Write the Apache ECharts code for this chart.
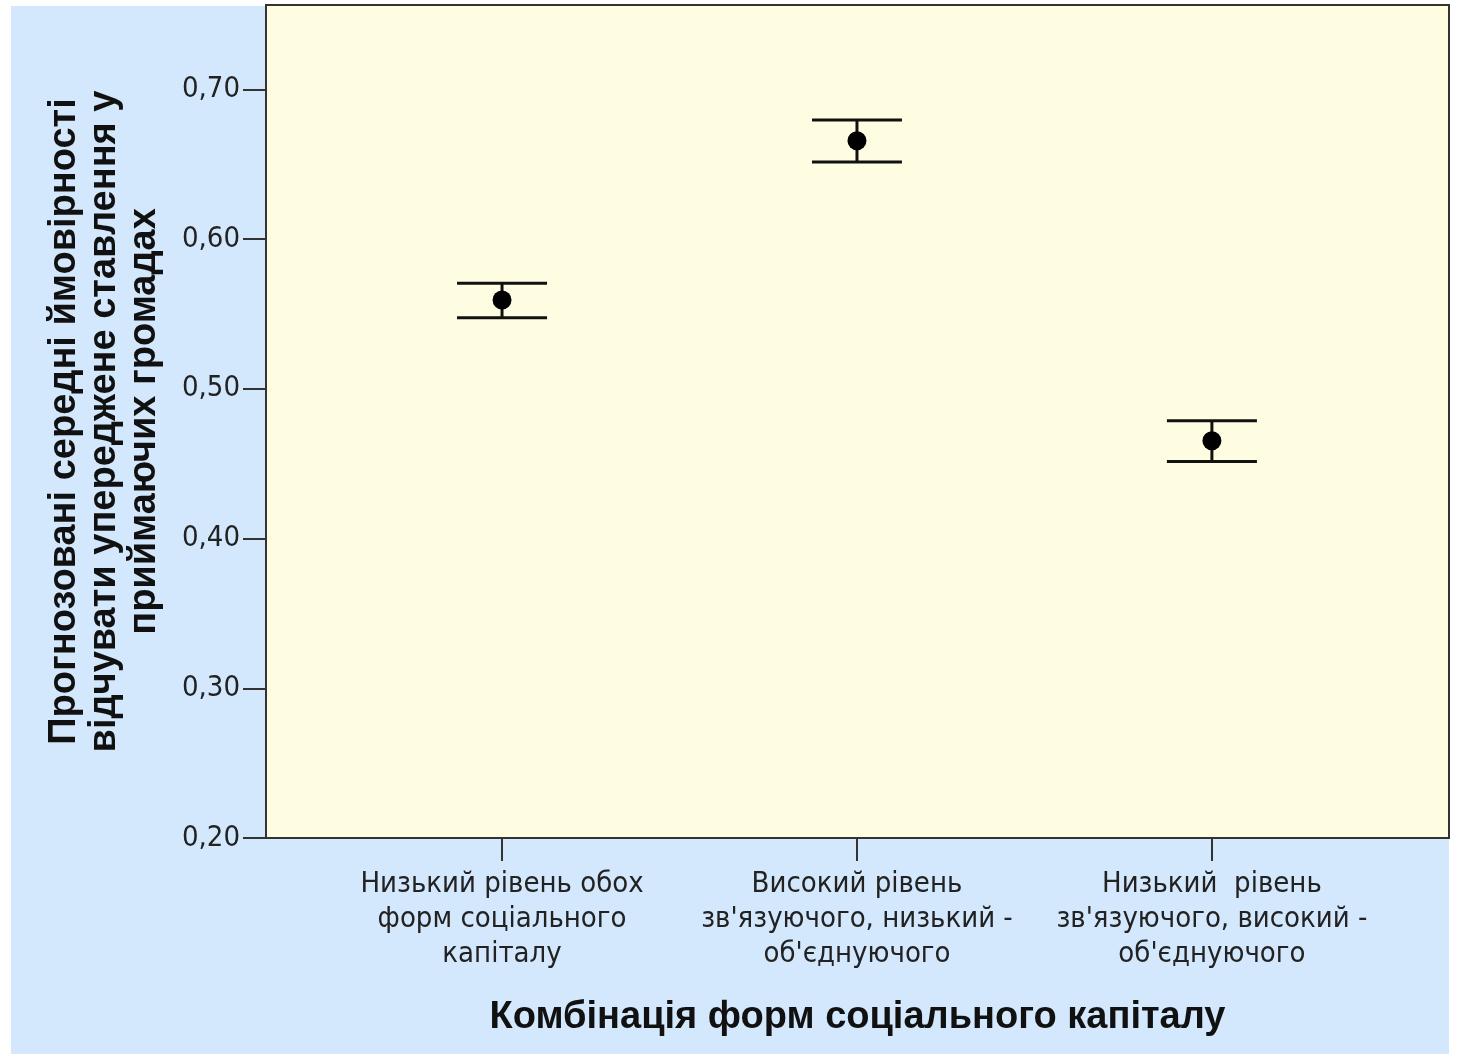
<!DOCTYPE html>
<html>
<head>
<meta charset="utf-8">
<script src="https://cdn.jsdelivr.net/npm/echarts@6/dist/echarts.min.js"></script>
<style>
html,body{margin:0;padding:0;background:#ffffff;}
#chart{width:1457px;height:1054px;}
</style>
</head>
<body>
<div id="chart"></div>
<script>
const categories = [
  'Низький рівень обох\nформ соціального\nкапіталу',
  'Високий рівень\nзв\'язуючого, низький -\nоб\'єднуючого',
  'Низький  рівень\nзв\'язуючого, високий -\nоб\'єднуючого'
];
const means = [0.5593, 0.6657, 0.4653];
const upper = [0.5704, 0.6795, 0.4786];
const lower = [0.5474, 0.6514, 0.4515];
const yTicks = [0.2, 0.3, 0.4, 0.5, 0.6, 0.7];
const xTicks = [0, 1, 2];

const narrow = "'Liberation Sans Narrow','DejaVu Sans Condensed','Arial Narrow',sans-serif";
const boldFont = "'Liberation Sans',Arial,sans-serif";

const chart = echarts.init(document.getElementById('chart'));
const option = {
  backgroundColor: '#ffffff',
  animation: false,
  graphic: [{
    type: 'rect', z: -10, silent: true,
    shape: {x: 11, y: 6, width: 1438, height: 1048},
    style: {fill: '#d3e8fd'}
  }],
  grid: {
    left: 266, top: 5, right: 8, bottom: 216,
    show: true, backgroundColor: '#fffde1', borderColor: '#333333', borderWidth: 2
  },
  xAxis: {
    type: 'value', min: -0.665, max: 2.668,
    splitLine: {show: false},
    axisLine: {show: true, onZero: false, lineStyle: {color: '#333333', width: 2}},
    axisTick: {show: true, inside: false, length: 23, customValues: xTicks, lineStyle: {color: '#333333', width: 2}},
    axisLabel: {
      customValues: xTicks, margin: 29, color: '#222222',
      fontFamily: narrow, fontSize: 29, lineHeight: 35,
      formatter: v => categories[Math.round(v)] || ''
    },
    name: 'Комбінація форм соціального капіталу',
    nameLocation: 'middle', nameGap: 161,
    nameTextStyle: {fontFamily: boldFont, fontWeight: 'bold', fontSize: 38, color: '#111111'}
  },
  yAxis: {
    type: 'value', min: 0.2, max: 0.7563, interval: 0.1,
    splitLine: {show: false},
    axisLine: {show: true, onZero: false, lineStyle: {color: '#333333', width: 2}},
    axisTick: {show: true, inside: false, length: 23, customValues: yTicks, lineStyle: {color: '#333333', width: 2}},
    axisLabel: {
      customValues: yTicks, margin: 26, color: '#222222',
      fontFamily: narrow, fontSize: 29, padding: [8, 0, 0, 0],
      formatter: v => v.toFixed(2).replace('.', ',')
    },
    name: 'Прогнозовані середні ймовірності\nвідчувати упереджене ставлення у\nприймаючих громадах',
    nameLocation: 'middle', nameGap: 101, nameRotate: 90,
    nameTextStyle: {fontFamily: boldFont, fontWeight: 'bold', fontSize: 38, lineHeight: 40, color: '#111111', align: 'center'}
  },
  series: [
    {
      type: 'custom',
      data: means.map((m, i) => [i, lower[i], upper[i]]),
      renderItem: function (params, api) {
        const lo = api.coord([api.value(0), api.value(1)]);
        const hi = api.coord([api.value(0), api.value(2)]);
        const hw = 45;
        const st = {stroke: '#111111', lineWidth: 3};
        return {
          type: 'group',
          children: [
            {type: 'line', shape: {x1: lo[0], y1: lo[1], x2: hi[0], y2: hi[1]}, style: st},
            {type: 'line', shape: {x1: lo[0] - hw, y1: lo[1], x2: lo[0] + hw, y2: lo[1]}, style: st},
            {type: 'line', shape: {x1: hi[0] - hw, y1: hi[1], x2: hi[0] + hw, y2: hi[1]}, style: st}
          ]
        };
      },
      z: 2
    },
    {
      type: 'scatter',
      data: means.map((m, i) => [i, m]),
      symbol: 'circle', symbolSize: 19,
      itemStyle: {color: '#000000', opacity: 1},
      z: 3
    }
  ]
};
chart.setOption(option);
</script>
</body>
</html>
